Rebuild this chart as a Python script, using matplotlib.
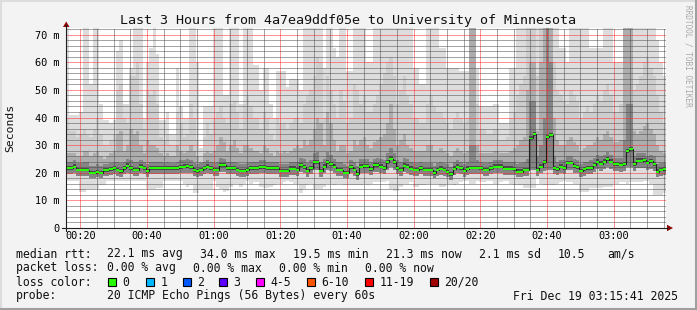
import numpy as np
import matplotlib
matplotlib.use('Agg')
import matplotlib.pyplot as plt
from matplotlib.ticker import MultipleLocator
from matplotlib.patches import Rectangle, Polygon
from matplotlib.lines import Line2D

plt.rcParams['font.family'] = ['DejaVu Sans Mono']

W, H = 697, 310
start_min = 15 + 41 / 60.0   # 00:15:41, one column per minute

# median rtt per minute (ms)
med = [21.7, 21.7, 22.2, 21.1, 21.1, 21.1, 21.1, 20.0, 20.0, 20.3,
       20.0, 20.9, 20.9, 21.4, 21.6, 21.1, 20.5, 21.7, 22.6, 21.7,
       21.1, 21.1, 22.2, 21.6, 20.5, 21.7, 21.7, 21.7, 21.7, 21.7,
       21.6, 21.6, 21.6, 21.6, 22.0, 22.2, 22.4, 22.0, 20.9, 20.5,
       21.1, 21.6, 22.2, 21.6, 21.1, 21.1, 22.7, 22.7, 21.6, 21.6,
       21.6, 21.1, 20.7, 20.7, 21.1, 21.7, 21.7, 21.7, 22.1, 22.1,
       21.7, 21.7, 21.7, 21.7, 20.7, 20.7, 20.7, 21.5, 21.5, 21.1,
       22.7, 22.0, 20.7, 21.6, 23.8, 23.8, 20.7, 22.2, 23.9, 23.2,
       22.2, 21.1, 21.1, 20.0, 20.0, 22.0, 21.1, 19.5, 22.2, 22.3,
       22.3, 21.4, 22.7, 22.7, 22.2, 21.6, 23.8, 25.1, 23.9, 21.7,
       21.1, 22.6, 22.2, 21.5, 21.1, 21.1, 21.7, 21.1, 21.1, 21.1,
       19.9, 21.1, 21.5, 21.1, 20.3, 19.5, 21.5, 22.2, 21.7, 20.7,
       21.5, 21.8, 21.8, 21.8, 21.6, 21.1, 21.1, 21.7, 22.2, 22.2,
       22.2, 21.5, 21.5, 21.5, 21.4, 20.4, 20.4, 21.1, 21.1, 32.4,
       34.0, 21.1, 22.2, 23.8, 32.9, 33.7, 21.7, 21.4, 22.2, 21.7,
       23.6, 23.6, 22.3, 22.1, 20.7, 21.2, 21.6, 21.7, 22.9, 24.0,
       23.3, 24.0, 25.0, 24.0, 23.2, 23.2, 22.9, 23.2, 27.9, 28.6,
       23.2, 24.4, 24.4, 24.5, 23.6, 24.2, 23.2, 20.4, 21.1, 21.3]

# smoke: highest ping per minute (73 = off the top)
mx = [73, 41, 41, 41, 42, 73, 73, 52, 73, 73,
      45, 39, 39, 38, 39, 64, 68, 45, 45, 58,
      73, 73, 73, 40, 60, 65, 73, 63, 39, 39,
      42, 34, 34, 58, 44, 40, 40, 73, 73, 60,
      29, 44, 44, 44, 73, 73, 73, 48, 48, 73,
      73, 73, 45, 73, 73, 73, 59, 59, 50, 58,
      58, 45, 40, 57, 57, 57, 51, 54, 54, 54,
      50, 73, 73, 73, 73, 73, 73, 58, 73, 73,
      65, 62, 73, 73, 57, 57, 73, 73, 73, 73,
      60, 60, 73, 73, 73, 73, 73, 73, 73, 73,
      73, 73, 73, 73, 58, 58, 52, 52, 73, 73,
      73, 73, 65, 65, 58, 58, 58, 58, 57, 57,
      57, 73, 73, 58, 44, 44, 44, 44, 45, 45,
      38, 38, 38, 58, 58, 73, 73, 73, 73, 73,
      73, 73, 73, 73, 73, 73, 73, 73, 65, 65,
      60, 73, 73, 73, 73, 73, 73, 65, 65, 65,
      65, 73, 73, 73, 60, 60, 60, 73, 73, 73,
      73, 73, 73, 73, 73, 73, 73, 68, 60, 55]

# upper edge of the second (light) smoke band
hi2 = [40, 35, 35, 33, 34, 36, 34, 33, 36, 40,
       34, 30, 30, 32, 34, 50, 52, 40, 38, 55,
       55, 60, 45, 36, 50, 48, 50, 45, 33, 32,
       34, 30, 30, 42, 38, 33, 34, 45, 40, 32,
       26, 33, 38, 34, 40, 42, 44, 40, 38, 45,
       46, 42, 36, 45, 48, 44, 40, 40, 36, 42,
       40, 34, 32, 40, 38, 38, 36, 38, 40, 40,
       38, 45, 48, 50, 55, 62, 60, 40, 55, 50,
       45, 40, 50, 46, 38, 40, 52, 50, 45, 48,
       42, 42, 45, 48, 52, 56, 60, 62, 55, 45,
       50, 55, 48, 45, 40, 40, 38, 38, 45, 48,
       44, 42, 42, 40, 38, 36, 40, 42, 40, 38,
       40, 73, 73, 45, 36, 36, 34, 34, 36, 36,
       32, 32, 33, 40, 42, 48, 52, 55, 73, 73,
       73, 55, 73, 73, 73, 73, 60, 50, 48, 46,
       45, 50, 48, 46, 40, 42, 44, 42, 45, 48,
       46, 50, 52, 48, 42, 42, 45, 73, 73, 73,
       50, 52, 55, 60, 62, 58, 55, 48, 42, 38]

# upper edge of the middle grey band
hi3 = [27, 27, 27, 26, 26, 28, 28, 26, 27, 28,
       26, 25, 26, 27, 28, 34, 35, 28, 30, 36,
       34, 35, 30, 27, 32, 30, 30, 29, 27, 26,
       27, 26, 26, 30, 28, 27, 28, 30, 28, 26,
       24, 27, 28, 27, 28, 30, 33, 31, 28, 30,
       32, 29, 27, 30, 30, 29, 28, 28, 27, 30,
       29, 27, 26, 28, 27, 28, 27, 28, 29, 30,
       29, 32, 30, 32, 36, 40, 38, 30, 42, 38,
       32, 28, 30, 30, 27, 28, 32, 30, 32, 33,
       30, 29, 31, 32, 33, 34, 38, 45, 36, 30,
       32, 34, 30, 29, 28, 28, 28, 28, 30, 30,
       28, 28, 29, 28, 27, 26, 28, 29, 28, 27,
       28, 73, 73, 30, 27, 27, 27, 27, 28, 28,
       27, 27, 27, 28, 29, 30, 32, 33, 50, 60,
       60, 35, 60, 73, 73, 73, 40, 32, 30, 30,
       32, 33, 31, 30, 28, 29, 30, 30, 31, 33,
       32, 34, 35, 33, 31, 31, 32, 73, 73, 73,
       35, 34, 35, 37, 38, 36, 34, 30, 28, 27]

# upper edge of the dark band around the median
hi4 = [24, 24, 24.5, 23.5, 23.5, 24, 24, 22.5, 22.5, 23,
       22.5, 23, 23, 23.5, 24, 24, 23.5, 24, 25, 24.5,
       24, 24, 24.5, 24, 23, 24, 24, 24, 24, 23.5,
       24, 23.5, 23.5, 24, 24.5, 24.5, 25, 24.5, 23.5, 23,
       23.5, 24, 24.5, 24, 23.5, 24, 25.5, 25, 24, 24,
       24, 23.5, 23, 23, 23.5, 24, 24, 24, 24.5, 24.5,
       24, 24, 24, 24, 23, 23, 23, 24, 24, 24,
       25.5, 25, 23.5, 24.5, 27, 27.5, 24, 25, 27.5, 26.5,
       25, 24, 24, 23, 22.5, 24.5, 24, 22.5, 25, 25,
       25, 24, 25, 25.5, 25, 24.5, 27, 29, 27, 24.5,
       24, 25.5, 25, 24, 23.5, 23.5, 24, 23.5, 23.5, 23.5,
       22.5, 23.5, 24, 23.5, 23, 22, 24, 24.5, 24, 23,
       24, 30, 30, 24.5, 24, 23.5, 23.5, 24, 24.5, 24.5,
       24.5, 24, 24, 24, 24, 23, 23.5, 24, 25, 46,
       46, 26, 30, 40, 73, 60, 26, 24, 24.5, 24.5,
       26, 26, 25, 24.5, 23, 24, 24, 24.5, 25.5, 26.5,
       26, 26.5, 27.5, 26.5, 25.5, 25.5, 25.5, 32, 45, 45,
       26, 27, 27, 27, 26, 26.5, 26, 23, 23.5, 23.5]

# lower edge of the darker bands
lo2 = [19.5, 19.5, 19.8, 19, 19, 19, 18.8, 18, 18, 18.3,
       18, 18.8, 18.8, 19.2, 19.4, 19, 18.5, 19.4, 20, 19.4,
       19, 19, 19.8, 19.4, 18.5, 19.4, 19.4, 19.4, 19.4, 19.4,
       19.4, 19.4, 19.4, 19.4, 19.8, 20, 20, 19.8, 18.8, 18.5,
       19, 19.4, 19.8, 19.4, 19, 19, 20.2, 20.2, 19.4, 19.4,
       19.4, 19, 18.6, 18.6, 19, 19.5, 19.5, 19.5, 19.8, 19.8,
       19.5, 19.5, 19.5, 19.5, 18.6, 18.6, 18.6, 19.3, 19.3, 19,
       20.2, 19.8, 18.6, 19.4, 21, 21, 18.6, 19.8, 21, 20.6,
       19.8, 19, 19, 18, 18, 19.8, 19, 17.5, 19.8, 20,
       20, 19.2, 20.2, 20.2, 19.8, 19.4, 21, 22, 21, 19.5,
       19, 20.2, 19.8, 19.3, 19, 19, 19.5, 19, 19, 19,
       18, 19, 19.3, 19, 18.3, 17.5, 19.3, 19.8, 19.5, 18.6,
       19.3, 19.6, 19.6, 19.6, 19.4, 19, 19, 19.5, 19.8, 19.8,
       19.8, 19.3, 19.3, 19.3, 19.2, 18.4, 18.4, 19, 19, 21,
       21, 19, 19.8, 20.5, 21, 21, 19.5, 19.2, 19.8, 19.5,
       21, 21, 20, 19.8, 18.6, 19, 19.4, 19.5, 20.4, 21.2,
       20.8, 21.2, 22, 21.2, 20.8, 20.8, 20.4, 20.8, 22, 22,
       20.8, 21.6, 21.6, 21.6, 21, 21.5, 20.8, 18.4, 19, 19.2]

# lowest ping per minute
mn = [17, 17, 17, 17, 13, 13, 14, 14, 14, 14,
      15.5, 15.5, 17, 17, 17, 17, 17, 17, 17, 17,
      17, 17, 17, 17, 14, 14, 14, 14.5, 14.5, 17,
      17, 17, 17, 17, 17, 16, 15, 15.5, 12.5, 12.5,
      14, 14, 14, 14, 17, 15, 14, 13, 13.5, 15,
      16, 16, 15, 16, 17, 16, 16.5, 16.5, 15, 14.5,
      14.5, 15, 15.5, 16, 16, 16.5, 17, 16.5, 16, 16,
      12.5, 14, 15.5, 16, 14, 14, 14, 15, 16, 16,
      15.5, 16, 16, 15.5, 15.5, 15.5, 15.5, 15.5, 15.5, 16,
      15.5, 16, 16.5, 16.5, 16.5, 16.5, 17, 14, 13.5, 13.5,
      15, 16, 16, 16.5, 15, 15, 15.5, 15.5, 16, 16,
      16, 16, 15, 15, 16, 16, 15.5, 16, 16.5, 17,
      17, 16, 16, 17, 16.5, 16.5, 17, 17, 16, 16,
      16.5, 17, 17, 16, 15.5, 15.5, 15.5, 14.5, 14.5, 14.5,
      14.5, 18, 16, 15.5, 15.5, 15.5, 15.5, 16, 16.5, 17,
      16.5, 16.5, 16, 16, 13, 13, 13, 14.5, 14.5, 14.5,
      14.5, 15, 15, 15, 16, 16, 16.5, 16.5, 16, 16.5,
      16.5, 16.5, 16.5, 17, 17, 16, 12, 12, 12, 12.5]

yticks = [0, 10, 20, 30, 40, 50, 60, 70]
ylabels = ['0', '10 m', '20 m', '30 m', '40 m', '50 m', '60 m', '70 m']
xticks = [20, 40, 60, 80, 100, 120, 140, 160, 180]
xlabels = ['00:20', '00:40', '01:00', '01:20', '01:40', '02:00', '02:20', '02:40', '03:00']

loss_names = ['0', '1', '2', '3', '4-5', '6-10', '11-19', '20/20']
loss_colors = ['#26ff00', '#00b8ff', '#0059ff', '#5e00ff', '#ff00ff', '#ff5500', '#ff0000', '#a00000']

for arr in (med, mx, hi2, hi3, hi4, lo2, mn):
    assert len(arr) == 180

med = np.array(med)
edges = start_min + np.arange(len(med) + 1)


def fx(x):
    return x / W


def fy(y):
    return 1 - y / H


fig = plt.figure(figsize=(W / 100, H / 100), dpi=100, facecolor='#f3f3f3')
ax = fig.add_axes([fx(66), fy(228), 600 / W, 200 / H])
ax.set_facecolor('white')
ax.set_xlim(edges[0], edges[-1])
ax.set_ylim(0, 72.4)

# smoke bands, lightest first
bands = [(mn, mx, '#dddddd'), (lo2, hi2, '#cdcdcd'),
         (lo2, hi3, '#adadad'), (lo2, hi4, '#858585')]
for lo, hi, c in bands:
    ax.stairs(hi, edges, baseline=lo, fill=True, color=c, lw=0, zorder=1)

# median: dark core, black step line, green loss bar
ax.stairs(med + 0.8, edges, baseline=med - 0.6, fill=True, color='#4a4a4a', lw=0, zorder=2)
ax.stairs(med, edges, baseline=None, color='#202020', lw=0.8, zorder=3)
ax.stairs(med + 0.36, edges, baseline=med - 0.36, fill=True, color=loss_colors[0], lw=0, zorder=4)

ax.set_yticks(yticks)
ax.set_yticklabels(ylabels)
ax.set_xticks(xticks)
ax.set_xticklabels(xlabels)
ax.yaxis.set_minor_locator(MultipleLocator(2))
ax.xaxis.set_minor_locator(MultipleLocator(5))
ax.tick_params(which='both', length=0)
ax.tick_params(axis='y', pad=4.5, labelsize=7.4)
ax.tick_params(axis='x', pad=2.2, labelsize=7.4)
ax.grid(which='minor', color=(0.3, 0.3, 0.3, 0.2), ls=(0, (1, 1)), lw=0.72)
ax.grid(which='major', color=(1, 0.15, 0.15, 0.2), ls=(0, (1, 1)), lw=0.72)
ax.set_axisbelow(False)
for s in ax.spines.values():
    s.set_visible(False)

# axes with arrows
fig.add_artist(Line2D([fx(66), fx(66)], [fy(231), fy(25)], color='#202020', lw=0.8))
fig.add_artist(Line2D([fx(62), fx(668)], [fy(228), fy(228)], color='#202020', lw=0.8))
fig.add_artist(Polygon([(fx(63), fy(27)), (fx(69.5), fy(27)), (fx(66.2), fy(21.5))],
                       closed=True, color='#8b0000', lw=0))
fig.add_artist(Polygon([(fx(667), fy(224.8)), (fx(667), fy(231.2)), (fx(673), fy(228))],
                       closed=True, color='#8b0000', lw=0))

# frame
fig.add_artist(Line2D([0, 1], [fy(0.7), fy(0.7)], color='#dcdcdc', lw=1.5))
fig.add_artist(Line2D([fx(0.7), fx(0.7)], [0, 1], color='#dcdcdc', lw=1.5))
fig.add_artist(Line2D([0, 1], [fy(309), fy(309)], color='#a0a0a0', lw=1.5))
fig.add_artist(Line2D([fx(696), fx(696)], [0, 1], color='#a0a0a0', lw=1.5))

fig.text(fx(348), fy(24), 'Last 3 Hours from 4a7ea9ddf05e to University of Minnesota',
         ha='center', va='baseline', fontsize=9.6, color='#111111')
fig.text(fx(10.5), fy(128), 'Seconds', rotation=90, ha='center', va='center',
         fontsize=8.2, color='#111111')
fig.text(fx(688), fy(5), 'RRDTOOL / TOBI OETIKER', rotation=270, ha='center', va='top',
         fontsize=5.6, color='#aaaaaa')

fs = 8.3
row1 = [(16, 'median rtt:'), (107, '22.1 ms avg'), (200, '34.0 ms max'), (293, '19.5 ms min'),
        (386, '21.3 ms now'), (479, '2.1 ms sd'), (558, '10.5'), (607, 'am/s')]
row2 = [(16, 'packet loss:'), (107, '0.00 % avg'), (193, '0.00 % max'), (279, '0.00 % min'),
        (365, '0.00 % now')]
row4 = [(16, 'probe:'), (107, '20 ICMP Echo Pings (56 Bytes) every 60s'),
        (513, 'Fri Dec 19 03:15:41 2025')]
for y, row in ((257.5, row1), (271.5, row2), (299.5, row4)):
    for x, s in row:
        fig.text(fx(x), fy(y), s, ha='left', va='baseline', fontsize=fs, color='#111111')

fig.text(fx(16), fy(285.5), 'loss color:', ha='left', va='baseline', fontsize=fs, color='#111111')
box_x = [108, 146, 183, 219, 256, 307, 365, 430]
for bx, name, c in zip(box_x, loss_names, loss_colors):
    fig.add_artist(Rectangle((fx(bx), fy(286)), 8 / W, 8 / H, facecolor=c,
                             edgecolor='black', lw=0.8))
    fig.text(fx(bx + 14.5), fy(285.5), name, ha='left', va='baseline', fontsize=fs, color='#111111')

fig.savefig('out.png', dpi=100, facecolor=fig.get_facecolor())
